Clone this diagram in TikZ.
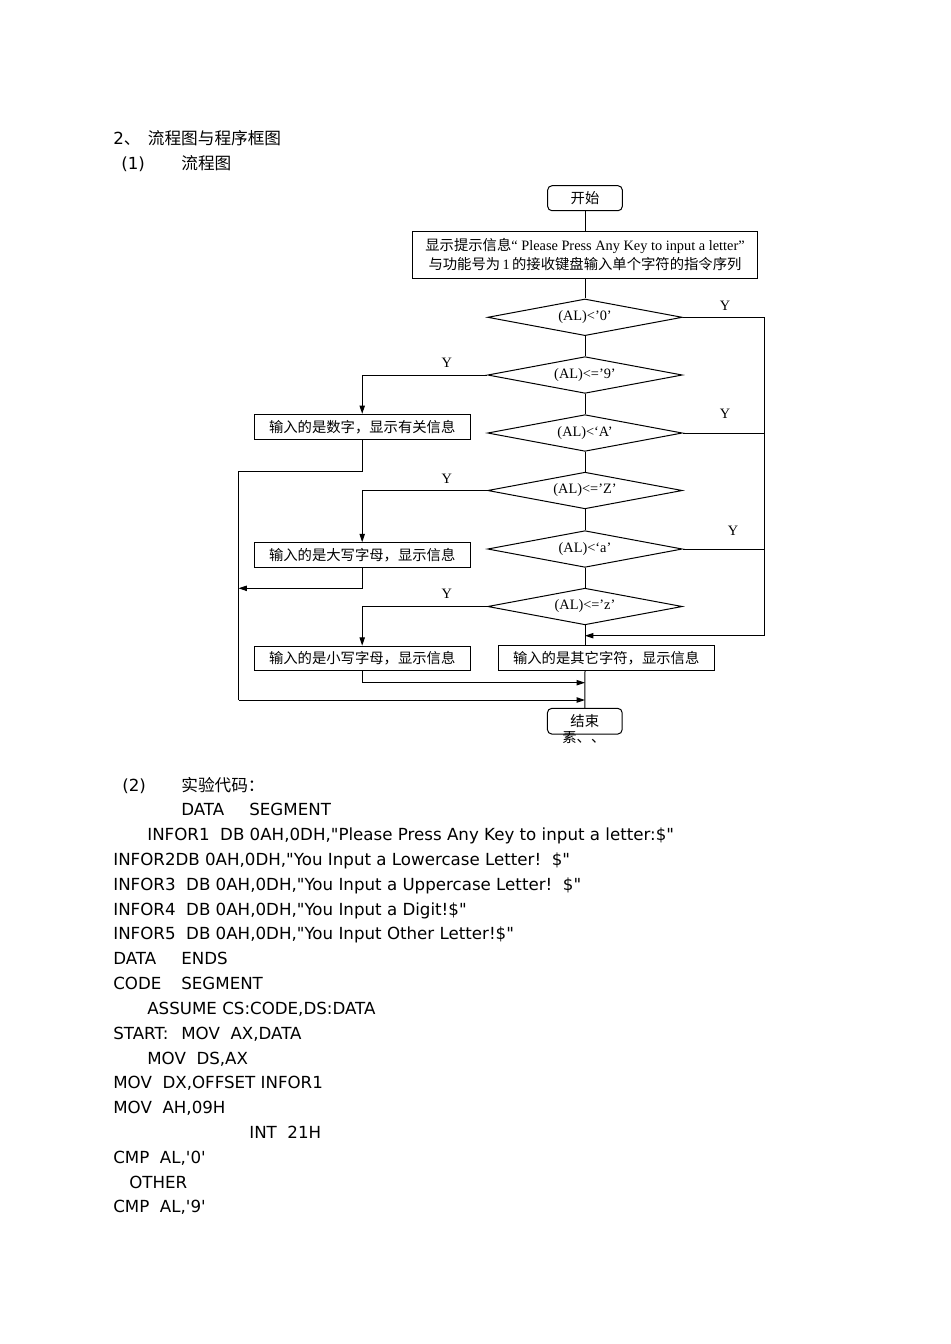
\documentclass[tikz,border=0pt]{standalone}
\usepackage{fontspec}
\setmainfont{DejaVu Sans}[Ligatures=TeXOff]
\newfontfamily\cjk{Noto Sans CJK SC}
\newfontfamily\tms{Liberation Serif}
\usetikzlibrary{shapes.geometric,arrows.meta}
\newcommand\fcfont{\tms\fontsize{8.6pt}{11.8pt}\selectfont}
\newcommand\codefont{\fontsize{10pt}{12pt}\selectfont}
\tikzset{
  ln/.style={line width=0.6pt, line join=miter},
  arr/.style={-{Triangle[length=5pt,width=3.2pt]}},
  fc/.style={font=\fcfont, inner sep=0pt},
  box/.style={draw, ln, fc, minimum width=129.4pt, minimum height=14.8pt},
  bigbox/.style={draw, ln, fc, align=center, minimum width=206.8pt, minimum height=28.2pt},
  rbox/.style={draw, ln, fc, rounded corners=2.6pt, minimum width=44.8pt, minimum height=15pt},
  dia/.style={draw, ln, fc, diamond, aspect=5.3, minimum width=116.8pt, minimum height=22pt},
  code/.style={anchor=base west, inner sep=0pt, font=\codefont},
  ccode/.style={anchor=base west, inner sep=0pt, font=\codefont\cjk},
}
\begin{document}
\begin{tikzpicture}[x=0.6pt,y=-0.6pt]
\useasboundingbox[fill=white] (0,0) rectangle (950,1344);

% headings
\node[code] (h1a) at (113,144.6) {2{\cjk 、}};
\node[ccode] (h1b) at (147.5,144.6) {流程图与程序框图};
\node[code] (h2a) at (121,169) {(1)};
\node[ccode] (h2b) at (181,169) {流程图};

% flowchart nodes
\node[rbox] (start) at (585,198.2) {\cjk 开始};
\node[bigbox] (msg) at (585,254.5) {{\cjk 显示提示信息}“ Please Press Any Key to input a letter”\\{\cjk 与功能号为}\,1\,{\cjk 的接收键盘输入单个字符的指令序列}};
\node[dia] (d1) at (585,317.3) {(AL)<’0’};
\node[dia] (d2) at (585,375) {(AL)<=’9’};
\node[dia] (d3) at (585,433) {(AL)<‘A’};
\node[dia] (d4) at (585,490.5) {(AL)<=’Z’};
\node[dia] (d5) at (585,549) {(AL)<‘a’};
\node[dia] (d6) at (585,606.5) {(AL)<=’z’};
\node[box] (digit) at (362.2,426.7) {\cjk 输入的是数字，显示有关信息};
\node[box] (upper) at (362.2,555) {\cjk 输入的是大写字母，显示信息};
\node[box] (lower) at (362.2,658.5) {\cjk 输入的是小写字母，显示信息};
\node[box] (other) at (606.2,658.3) {\cjk 输入的是其它字符，显示信息};
\node[rbox, minimum height=15.4pt] (stop) at (584.8,721.2) {\cjk 结束};
\begin{scope}
  \clip (540,731) rectangle (640,743);
  \node[fc, anchor=west] (stopx) at (562,737.5) {\cjk 素、、};
\end{scope}

% Y labels
\node[fc] (y1) at (725,305.7) {Y};
\node[fc] (y2) at (446.7,363) {Y};
\node[fc] (y3) at (725,414) {Y};
\node[fc] (y4) at (446.7,479) {Y};
\node[fc] (y5) at (733,531) {Y};
\node[fc] (y6) at (446.7,594) {Y};

% coordinates
\coordinate (rt) at (764.7,317.3);
\coordinate (rb) at (764.7,635.7);
\coordinate (j1) at (585,635.7);
\coordinate (lt) at (238.5,471.7);
\coordinate (lb) at (238.5,700);
\coordinate (j3) at (585,700);
\coordinate (l2) at (238.5,588.3);
\coordinate (j2) at (585,682.7);

% main flow
\draw[ln] (start.south) -- (msg.north);
\draw[ln] (msg.south) -- (d1.north);
\draw[ln] (d1.south) -- (d2.north);
\draw[ln] (d2.south) -- (d3.north);
\draw[ln] (d3.south) -- (d4.north);
\draw[ln] (d4.south) -- (d5.north);
\draw[ln] (d5.south) -- (d6.north);
\draw[ln] (d6.south) -- (d6.south |- other.north);
\draw[ln] (d6.south |- other.south) -- (stop.north);

% right side
\draw[ln] (d1.east) -- (rt) -- (rb);
\draw[ln,arr] (rb) -- (j1);
\draw[ln] (d3.east) -- (d3.east -| rt);
\draw[ln] (d5.east) -- (d5.east -| rt);

% left side
\draw[ln,arr] (d2.west) -| (digit.north);
\draw[ln,arr] (d4.west) -| (upper.north);
\draw[ln,arr] (d6.west) -| (lower.north);
\draw[ln] (digit.south) |- (lt) -- (lb);
\draw[ln,arr] (lb) -- (j3);
\draw[ln,arr] (upper.south) |- (l2);
\draw[ln,arr] (lower.south) |- (j2);

% code
\node[code] (c0a) at (122,791) {(2)};
\node[ccode] (c0b) at (181,791) {实验代码：};
\node[code] (c1a) at (181,815.8) {DATA};
\node[code] (c1b) at (249,815.8) {SEGMENT};
\node[code] (c2) at (147,840.6) {INFOR1~~DB 0AH,0DH,"Please Press Any Key to input a letter:\$"};
\node[code] (c3) at (113,865.5) {INFOR2DB 0AH,0DH,"You Input a Lowercase Letter!~~\$"};
\node[code] (c4) at (113,890.3) {INFOR3~~DB 0AH,0DH,"You Input a Uppercase Letter!~~\$"};
\node[code] (c5) at (113,915.1) {INFOR4~~DB 0AH,0DH,"You Input a Digit!\$"};
\node[code] (c6) at (113,939.9) {INFOR5~~DB 0AH,0DH,"You Input Other Letter!\$"};
\node[code] (c7a) at (113,964.7) {DATA};
\node[code] (c7b) at (181,964.7) {ENDS};
\node[code] (c8a) at (113,989.6) {CODE};
\node[code] (c8b) at (181,989.6) {SEGMENT};
\node[code] (c9) at (147,1014.4) {ASSUME CS:CODE,DS:DATA};
\node[code] (c10a) at (113,1039.2) {START:};
\node[code] (c10b) at (181,1039.2) {MOV~~AX,DATA};
\node[code] (c11) at (147,1064) {MOV~~DS,AX};
\node[code] (c12) at (113,1088.8) {MOV~~DX,OFFSET INFOR1};
\node[code] (c13) at (113,1113.7) {MOV~~AH,09H};
\node[code] (c14) at (249,1138.5) {INT~~21H};
\node[code] (c15) at (113,1163.3) {CMP~~AL,'0'};
\node[code] (c16) at (129,1188.1) {OTHER};
\node[code] (c17) at (113,1212.9) {CMP~~AL,'9'};
\end{tikzpicture}
\end{document}
